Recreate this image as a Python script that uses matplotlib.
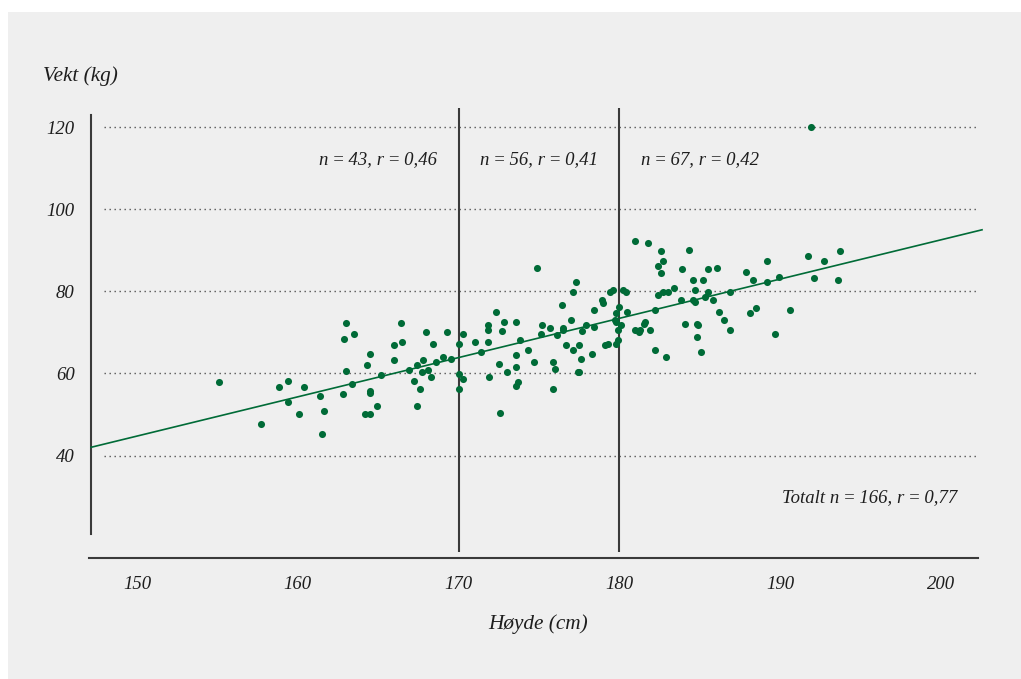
import matplotlib
matplotlib.use('Agg')
import matplotlib.pyplot as plt
from matplotlib.patches import Rectangle
import numpy as np

# ---------------- data ----------------
height_cm = [
    155.1, 157.7, 158.8, 159.4, 159.4, 160.1, 160.4, 161.4, 161.6, 161.5,
    162.8, 162.9, 163.0, 163.0, 163.4, 163.5, 164.2, 164.5, 164.3, 164.5,
    164.5, 164.5, 164.9, 165.2, 166.0, 166.0, 166.4, 166.5, 166.9, 167.2,
    167.4, 167.4, 167.6, 167.7, 167.8, 168.0, 168.1, 168.3, 168.4, 168.6,
    169.0, 169.3, 169.5, 170.0, 170.0, 170.0, 170.3, 170.3, 171.0, 171.4,
    171.8, 171.8, 171.8, 171.9, 172.3, 172.5, 172.6, 172.7, 172.8, 173.0,
    173.6, 173.6, 173.6, 173.6, 173.7, 173.8, 174.3, 174.7, 174.9, 175.1,
    175.2, 175.7, 175.9, 176.0, 175.9, 176.1, 176.4, 176.5, 176.5, 176.7,
    177.0, 177.1, 177.1, 177.3, 177.4, 177.5, 177.5, 177.6, 177.7, 177.9,
    178.3, 178.4, 178.4, 178.9, 179.0, 179.1, 179.3, 179.4, 179.6, 179.7,
    179.8, 179.8, 179.8, 179.9, 179.9, 180.0, 180.1, 180.2, 180.4, 180.5,
    181.0, 181.8, 182.6, 182.7, 182.4, 182.6, 184.3, 183.9, 185.5, 186.1,
    184.6, 185.2, 181.0, 181.2, 181.3, 181.5, 181.6, 181.9, 182.2, 182.2,
    182.9, 182.4, 182.7, 183.0, 183.4, 183.8, 184.1, 184.7, 184.6, 184.7,
    185.3, 185.5, 185.8, 184.8, 184.9, 184.8, 185.1, 186.2, 186.5, 186.9,
    186.9, 187.9, 188.3, 189.2, 189.2, 189.9, 188.1, 188.5, 189.7, 190.6,
    191.7, 192.1, 192.7, 193.6, 193.7, 191.9,
]
weight_kg = [
    57.8, 47.6, 56.6, 58.2, 53.0, 50.0, 56.6, 54.6, 50.9, 45.2,
    55.0, 68.4, 72.2, 60.7, 57.4, 69.7, 50.0, 50.0, 62.0, 64.8,
    55.8, 55.3, 52.1, 59.5, 66.8, 63.2, 72.2, 67.6, 60.8, 58.2,
    62.0, 52.1, 56.2, 60.3, 63.2, 70.1, 60.8, 59.0, 67.2, 62.8,
    64.0, 70.1, 63.6, 67.2, 59.9, 56.2, 58.6, 69.7, 67.6, 65.2,
    71.8, 70.5, 67.6, 59.0, 75.0, 62.3, 50.4, 70.2, 72.6, 60.3,
    72.6, 64.4, 61.5, 57.0, 57.8, 68.1, 65.6, 62.7, 85.7, 69.7,
    71.8, 71.0, 62.7, 61.1, 56.2, 69.3, 76.7, 71.0, 70.5, 66.8,
    73.0, 65.6, 79.9, 82.3, 60.3, 60.3, 66.8, 63.5, 70.2, 71.8,
    64.8, 75.4, 71.4, 77.9, 77.1, 66.8, 67.2, 79.9, 80.3, 73.0,
    74.6, 72.6, 67.2, 70.5, 68.1, 76.2, 71.8, 80.3, 79.9, 75.0,
    92.2, 91.8, 89.7, 87.3, 86.1, 84.4, 90.1, 85.3, 85.3, 85.6,
    82.7, 82.7, 70.5, 70.1, 70.5, 72.1, 72.6, 70.5, 75.4, 65.6,
    64.0, 79.1, 79.9, 79.9, 80.7, 77.9, 72.1, 80.3, 77.9, 77.5,
    78.7, 79.9, 77.9, 72.1, 71.8, 68.9, 65.2, 75.0, 72.9, 70.5,
    79.9, 84.8, 82.7, 87.3, 82.3, 83.5, 74.6, 75.9, 69.7, 75.4,
    88.5, 83.2, 87.3, 82.7, 89.7, 120.0,
]
x_ticks = [150, 160, 170, 180, 190, 200]
y_ticks = [40, 60, 80, 100, 120]
group_bounds = [170, 180]
group_label_x = [165, 175, 185]
group_labels = ["n\u2009=\u200943, r\u2009=\u20090,46",
                "n\u2009=\u200956, r\u2009=\u20090,41",
                "n\u2009=\u200967, r\u2009=\u20090,42"]
total_label = "Totalt n\u2009=\u2009166, r\u2009=\u20090,77"
reg_slope = 0.956
reg_intercept = -98.67
y_label = "Vekt (kg)"
x_label = "Høyde (cm)"

# ---------------- style ----------------
GREEN = '#006b37'
DARK = '#3a3a3a'
TXT = '#1e1e1e'
BG = '#efefef'
FONT = dict(family=['Liberation Serif', 'DejaVu Serif'], style='italic')
FS = 13.5
FS_TITLE = 15.3

W, H = 1021, 679
fig = plt.figure(figsize=(W / 100, H / 100), dpi=100, facecolor='white')
fig.patches.append(Rectangle((8 / W, 0), 1 - 8 / W, 1 - 12 / H,
                             transform=fig.transFigure, facecolor=BG,
                             edgecolor='none', zorder=-10))

ax = fig.add_axes([89 / W, 121.5 / H, 889 / W, 449.5 / H])
ax.set_facecolor('none')
ax.set_xlim(147.015, 202.30)
ax.set_ylim(15.16, 124.63)

for s in ['top', 'right']:
    ax.spines[s].set_visible(False)
ax.spines['left'].set_bounds(20.8, 122.9)
ax.spines['left'].set_position(('data', 147.12))
for s in ['left', 'bottom']:
    ax.spines[s].set_color(DARK)
    ax.spines[s].set_linewidth(1.5)

# dotted grid
ax.hlines(y_ticks, 147.95, 202.3, colors='#555555', linewidth=1.0,
          linestyles=(0, (1, 2.6)), zorder=1)
# group separators
ax.vlines(group_bounds, 16.5, 124.63, colors=DARK, linewidth=1.5, zorder=2,
          clip_on=False)

# regression line
xs = np.array([147.14, 202.55])
ax.plot(xs, reg_slope * xs + reg_intercept, color=GREEN, linewidth=1.2,
        zorder=3, clip_on=False)

# points
ax.scatter(height_cm, weight_kg, s=26, color=GREEN, linewidths=0, zorder=4,
           clip_on=False)

# ticks
ax.set_xticks(x_ticks)
ax.set_xticklabels([str(v) for v in x_ticks], fontsize=FS, color=TXT, **FONT)
ax.set_yticks(y_ticks)
ax.set_yticklabels([str(v) for v in y_ticks], fontsize=FS, color=TXT, **FONT)
ax.tick_params(axis='x', length=0, pad=13)
ax.tick_params(axis='y', length=0, pad=11.5)

# annotations
for gx, gl in zip(group_label_x, group_labels):
    ax.text(gx, 112.1, gl, ha='center', va='center', fontsize=FS,
            color=TXT, **FONT)
ax.text(201.0, 29.8, total_label, ha='right', va='center', fontsize=FS,
        color=TXT, **FONT)

fig.text(43 / W, 1 - 76 / H, y_label, ha='left', va='center',
         fontsize=FS_TITLE, color=TXT, **FONT)
fig.text(538.6 / W, 1 - 624 / H, x_label, ha='center', va='center',
         fontsize=FS_TITLE, color=TXT, **FONT)

fig.savefig('out.png', dpi=100, facecolor=fig.get_facecolor())
